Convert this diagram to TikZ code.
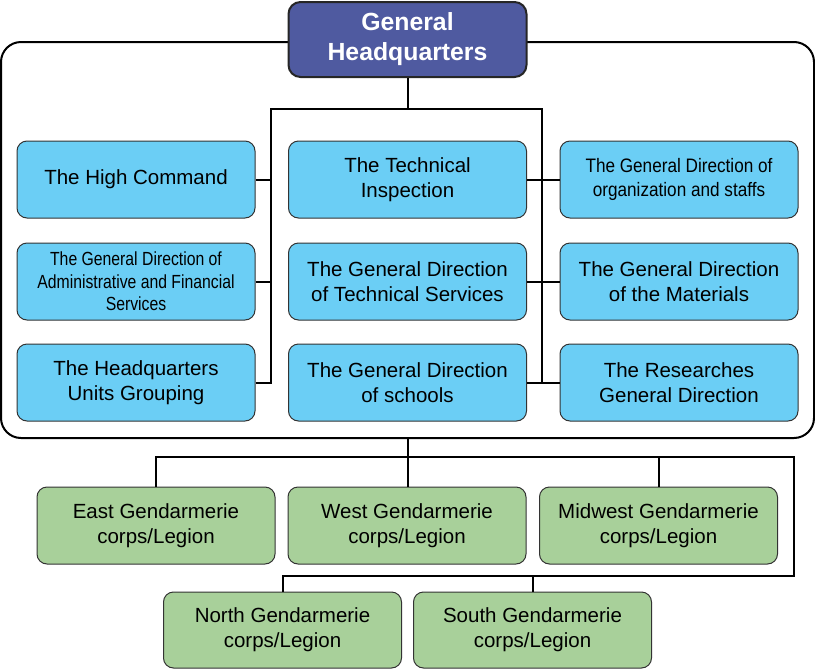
\documentclass[tikz,border=0pt]{standalone}
\usepackage{fontspec}
\setmainfont{Liberation Sans}
\newfontfamily\condfont[FakeStretch=0.83]{Liberation Sans}
\newfontfamily\condfontb[FakeStretch=0.88]{Liberation Sans}
\definecolor{hqblue}{HTML}{4F5AA0}
\definecolor{lblue}{HTML}{6BCEF5}
\definecolor{lgreen}{HTML}{A8D09A}
\definecolor{bordergray}{HTML}{333333}
\tikzset{
  conn/.style={line width=2pt, black},
  unitbox/.style={draw=bordergray, line width=1pt, rounded corners=10pt,
    minimum width=238pt, minimum height=77pt, inner sep=0pt, align=center,
    font=\fontsize{20.5}{25}\selectfont},
  bluebox/.style={unitbox, fill=lblue},
  greenbox/.style={unitbox, fill=lgreen},
  hqbox/.style={draw=black!85, line width=2pt, rounded corners=12pt, fill=hqblue,
    minimum width=238pt, minimum height=75pt, inner sep=0pt, align=center,
    text=white, font=\bfseries\fontsize{24.8}{30}\selectfont},
  container/.style={draw=black, line width=2pt, rounded corners=20pt,
    minimum width=813pt, minimum height=396pt, inner sep=0pt}
}
\begin{document}
\begin{tikzpicture}[x=1pt, y=-1pt]
\useasboundingbox (0,0) rectangle (815,670);
% container
\node[container] (cont) at (407.5,240) {};
% HQ
\node[hqbox] (hq) at (407.5,39.5) {General\\Headquarters};
% blue boxes
\node[bluebox] (hc) at (136,179.5) {The High Command};
\node[bluebox, font=\condfont\fontsize{19}{22.7}\selectfont] (ad) at (136,281.5) {The General Direction of\\Administrative and Financial\\Services};
\node[bluebox] (hu) at (136,382.5) {The Headquarters\\Units Grouping};
\node[bluebox] (ti) at (407.5,179.5) {The Technical\\Inspection};
\node[bluebox] (ts) at (407.5,281.5) {The General Direction\\of Technical Services};
\node[bluebox] (gs) at (407.5,382.5) {The General Direction\\of schools};
\node[bluebox, font=\condfontb\fontsize{19.5}{24}\selectfont] (go) at (679,179.5) {The General Direction of\\organization and staffs};
\node[bluebox] (gm) at (679,281.5) {The General Direction\\of the Materials};
\node[bluebox] (rg) at (679,382.5) {The Researches\\General Direction};
% green boxes
\node[greenbox] (east) at (156,525.5) {East Gendarmerie\\corps/Legion};
\node[greenbox] (west) at (407,525.5) {West Gendarmerie\\corps/Legion};
\node[greenbox] (midw) at (658.5,525.5) {Midwest Gendarmerie\\corps/Legion};
\node[greenbox, minimum height=76pt] (north) at (282.5,630) {North Gendarmerie\\corps/Legion};
\node[greenbox, minimum height=76pt] (south) at (532.5,630) {South Gendarmerie\\corps/Legion};
% bus coordinates
\coordinate (busL) at (271,109);
\coordinate (busR) at (542,109);
\coordinate (gR) at (794,457);
\coordinate (gR2) at (794,576);
% top connectors
\draw[conn] (hq.south) -- (hq.south |- busL);
\draw[conn] (hu.east) -| (busL) -- (busR) -- (busR |- gs.east);
\draw[conn] (hc.east) -- (hc.east -| busL);
\draw[conn] (ad.east) -- (ad.east -| busL);
\draw[conn] (ti.east) -- (go.west);
\draw[conn] (ts.east) -- (gm.west);
\draw[conn] (gs.east) -- (rg.west);
% bottom connectors
\draw[conn] (cont.south) -- (cont.south |- west.north);
\draw[conn] (east.north) |- (gR) -- (gR2) -| (north.north);
\draw[conn] (midw.north) -- (midw.north |- gR);
\draw[conn] (south.north) -- (south.north |- gR2);
\end{tikzpicture}
\end{document}
